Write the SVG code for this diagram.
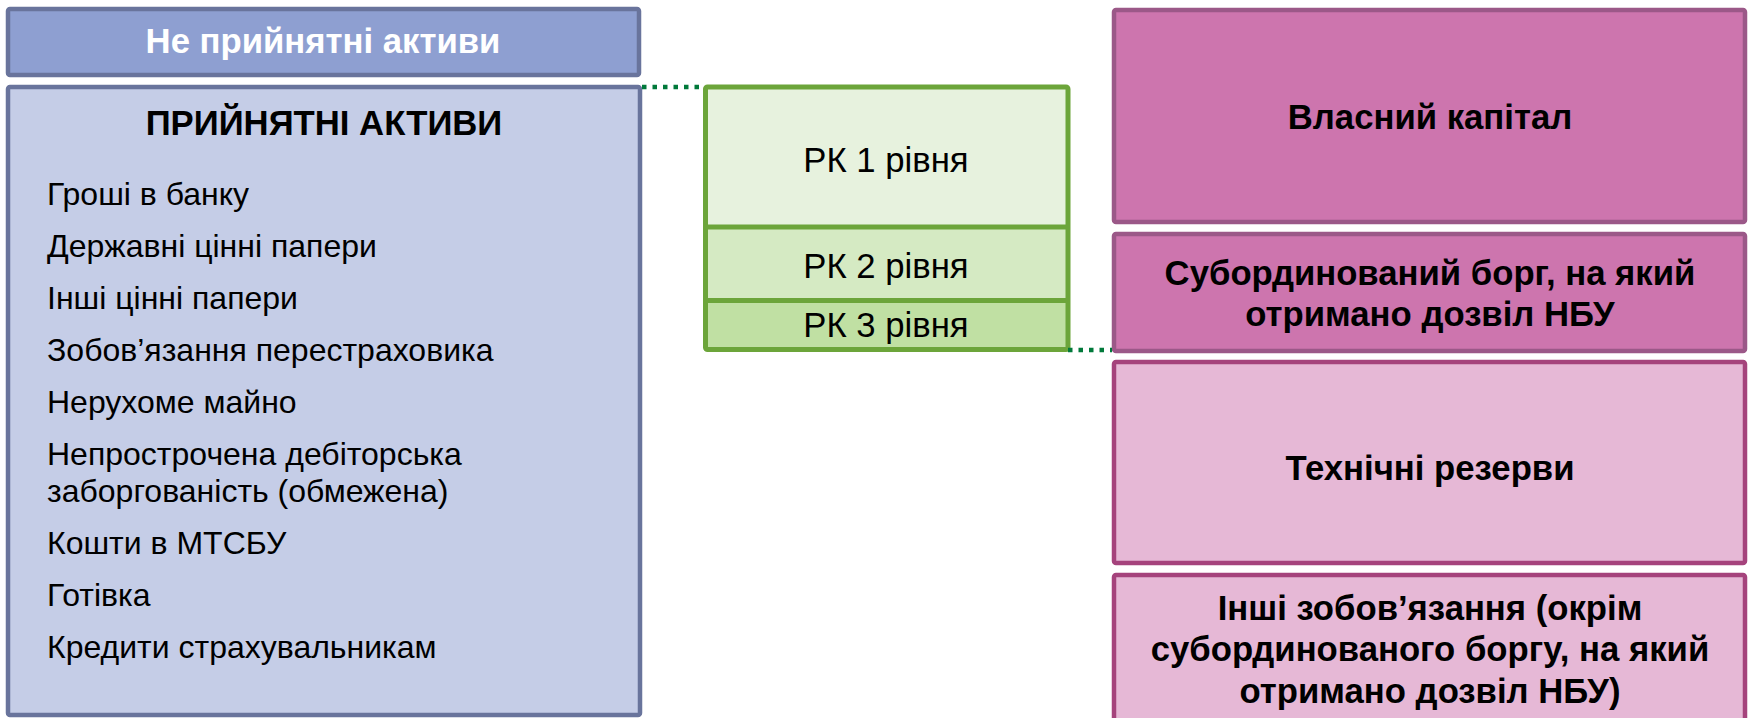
<svg xmlns="http://www.w3.org/2000/svg" width="1748" height="718" viewBox="0 0 1748 718">
<style>
text{font-family:"Liberation Sans",Arial,sans-serif;fill:#000}
.b{font-weight:bold;font-size:34.7px;text-anchor:middle}
.w{fill:#fff}
.li{font-size:32px}
.rk{font-size:34.7px;text-anchor:middle}
.blue{stroke:#69749c;stroke-width:4.5}
.green{stroke:#6ca53a;stroke-width:5}
.pk1{fill:#cd75ae;stroke:#9b5888;stroke-width:4.5}
.pk2{fill:#e6b8d6;stroke:#a5437c;stroke-width:4.5}
.dot{stroke:#00793a;stroke-width:4.5;stroke-dasharray:4.5 6;fill:none}
</style>
<rect width="1748" height="718" fill="#fff"/>
<g id="not-accepted">
<rect class="blue" x="8" y="9" width="631" height="66" rx="2" fill="#8e9fd1"/>
<text class="b w" x="323" y="53">Не прийнятні активи</text>
</g>
<g id="accepted">
<rect class="blue" x="8" y="87" width="632" height="628" rx="2" fill="#c5cde7"/>
<text class="b" x="324" y="135">ПРИЙНЯТНІ АКТИВИ</text>
<text class="li" x="47" y="205">Гроші в банку</text>
<text class="li" x="47" y="257">Державні цінні папери</text>
<text class="li" x="47" y="309">Інші цінні папери</text>
<text class="li" x="47" y="361">Зобов’язання перестраховика</text>
<text class="li" x="47" y="413">Нерухоме майно</text>
<text class="li" x="47" y="465">Непрострочена дебіторська</text>
<text class="li" x="47" y="502">заборгованість (обмежена)</text>
<text class="li" x="47" y="554">Кошти в МТСБУ</text>
<text class="li" x="47" y="606">Готівка</text>
<text class="li" x="47" y="658">Кредити страхувальникам</text>
</g>
<g id="rk">
<rect x="705.5" y="87" width="362.5" height="140" fill="#e7f2de"/>
<rect x="705.5" y="227" width="362.5" height="73.5" fill="#d5eac3"/>
<rect x="705.5" y="300.5" width="362.5" height="49" fill="#c0e0a3"/>
<rect class="green" x="705.5" y="87" width="362.5" height="262.5" rx="2" fill="none"/>
<line class="green" x1="705.5" y1="227" x2="1068" y2="227"/>
<line class="green" x1="705.5" y1="300.5" x2="1068" y2="300.5"/>
<text class="rk" x="886" y="172">РК 1 рівня</text>
<text class="rk" x="886" y="278">РК 2 рівня</text>
<text class="rk" x="886" y="337">РК 3 рівня</text>
</g>
<g id="equity">
<rect class="pk1" x="1114" y="10" width="631" height="212" rx="2"/>
<text class="b" x="1430" y="129">Власний капітал</text>
</g>
<g id="subdebt">
<rect class="pk1" x="1114" y="234" width="631" height="117" rx="2"/>
<text class="b" x="1430" y="285">Субординований борг, на який</text>
<text class="b" x="1430" y="326">отримано дозвіл НБУ</text>
</g>
<g id="reserves">
<rect class="pk2" x="1114" y="362" width="631" height="201" rx="2"/>
<text class="b" x="1430" y="480">Технічні резерви</text>
</g>
<g id="other">
<rect class="pk2" x="1114" y="575" width="631" height="170" rx="2"/>
<text class="b" x="1430" y="620">Інші зобов’язання (окрім</text>
<text class="b" x="1430" y="661">субординованого боргу, на який</text>
<text class="b" x="1430" y="703">отримано дозвіл НБУ)</text>
</g>
<g id="connectors">
<line class="dot" x1="642" y1="87" x2="704" y2="87"/>
<line class="dot" x1="1068" y1="350" x2="1112" y2="350"/>
</g>
</svg>
